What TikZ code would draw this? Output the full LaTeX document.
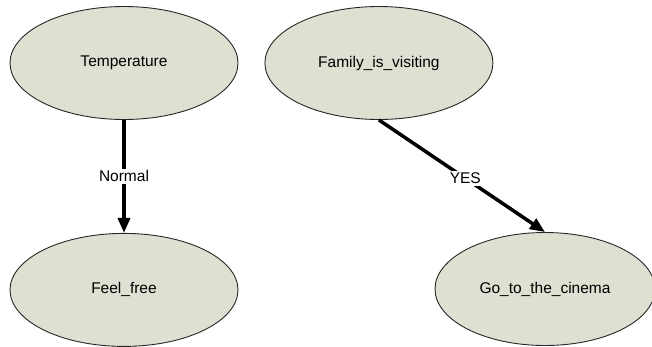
\documentclass[tikz,border=0pt]{standalone}
\usepackage{fontspec}
\setmainfont{Liberation Sans}
\usetikzlibrary{positioning,shapes.geometric,arrows.meta}
\definecolor{nodefill}{RGB}{224,224,210}

\begin{document}
\begin{tikzpicture}[%
x=1pt,y=-1pt,%
trans/.style={->,>={Triangle[length=15pt,width=12pt]},line width=3.5pt},%
chance/.style={ellipse,draw=black!85,line width=0.9pt,fill=nodefill,minimum width=228pt,minimum height=113pt,inner sep=0pt,font=\fontsize{15.5}{18}\selectfont},%
lbl/.style={fill=white,inner sep=2pt,font=\fontsize{15.5}{18}\selectfont},%
node distance=113pt,%
  ]
    \useasboundingbox (0,0) rectangle (652,346);

    \node[chance] (temp) at (124,63) {Temperature};

    \node[chance] (feel) [below=of temp] {Feel\_free};

    \node[chance] (family) [right=26pt of temp] {Family\_is\_visiting};

    \node[chance,minimum width=220pt] (cinema) at (545,289) {Go\_to\_the\_cinema};

        \draw[trans] (temp) to node[lbl] {Normal} (feel);

        \draw[trans] (family.south) to node[lbl,pos=0.52] {YES} (cinema.north);

  \end{tikzpicture}
\end{document}
